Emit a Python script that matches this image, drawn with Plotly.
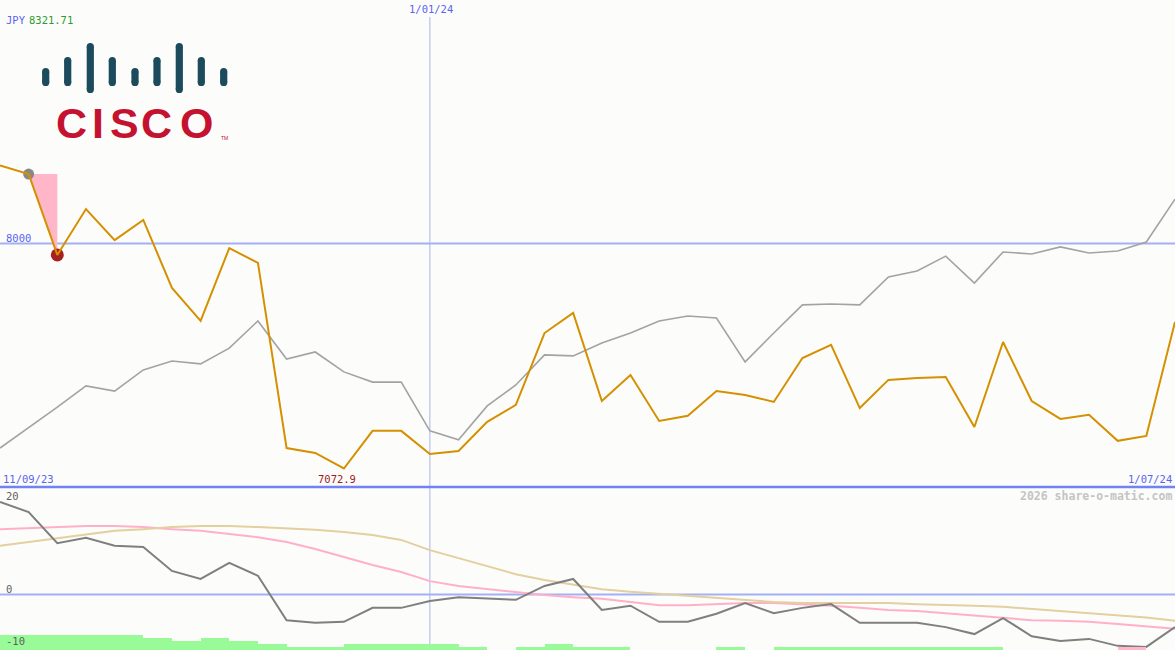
import plotly.graph_objects as go

# ---------------- data ----------------
idx = list(range(42))
date_labels = ["11/09/23", "1/01/24", "1/07/24"]
date_label_pos = [0, 15, 41]

price = [8321.71, 8286, 7953, 8142, 8014, 8097, 7817, 7681, 7981, 7920,
         7157, 7137, 7072.9, 7228, 7228, 7133, 7145, 7265, 7335, 7631,
         7714, 7351, 7458, 7269, 7290, 7392, 7376, 7347, 7528, 7582,
         7322, 7438, 7446, 7450, 7244, 7594, 7351, 7277, 7294, 7187,
         7207, 7677]

compare = [7157, 7240, 7326, 7413, 7392, 7479, 7516, 7504, 7569, 7681,
           7524, 7553, 7471, 7429, 7429, 7228, 7191, 7331, 7417, 7541,
           7537, 7590, 7631, 7681, 7701, 7693, 7512, 7631, 7747, 7751,
           7747, 7862, 7887, 7948, 7837, 7965, 7957, 7986, 7961, 7969,
           8006, 8183]

rel_perf = [17.3, 15.4, 9.6, 10.6, 9.1, 8.9, 4.4, 2.9, 5.9, 3.5,
            -4.8, -5.3, -5.1, -2.5, -2.5, -1.2, -0.5, -0.7, -1.0, 1.6,
            2.9, -2.9, -2.1, -5.1, -5.1, -3.6, -1.6, -3.5, -2.5, -1.8,
            -5.3, -5.3, -5.3, -6.1, -7.4, -4.4, -7.8, -8.7, -8.3, -9.6,
            -9.8, -6.1]

avg_fast = [12.2, 12.4, 12.6, 12.8, 12.8, 12.6, 12.2, 11.9, 11.3, 10.7,
            9.8, 8.5, 7.0, 5.5, 4.2, 2.5, 1.6, 1.0, 0.5, -0.1,
            -0.5, -0.8, -1.4, -2.0, -2.0, -1.8, -1.6, -1.6, -1.8, -2.1,
            -2.5, -2.9, -3.1, -3.5, -4.0, -4.4, -4.8, -4.9, -5.1, -5.5,
            -5.9, -6.4]

avg_slow = [9.1, 9.8, 10.6, 11.3, 11.9, 12.2, 12.6, 12.8, 12.8, 12.6,
            12.4, 12.1, 11.7, 11.1, 10.2, 8.3, 6.8, 5.3, 3.8, 2.7,
            1.8, 1.0, 0.5, 0.1, -0.3, -0.7, -1.0, -1.4, -1.6, -1.6,
            -1.6, -1.6, -1.8, -1.9, -2.1, -2.3, -2.7, -3.0, -3.4, -3.8,
            -4.3, -4.9]

# one value per interval between points (41 intervals)
volume_bars = [5, 5, 5, 5, 5, 4, 3, 4, 3, 2,
               1, 1, 2, 2, 2, 2, 1, 0, 1, 2,
               1, 1, 0, 0, 0, 1, 0, 1, 1, 1,
               1, 1, 1, 1, 1, 0, 0, 0, 0, -1,
               0]

min_label = "7072.9"
min_index = 12
header_ccy = "JPY"
header_value = "8321.71"
level_line = 8000
sub_ticks = ["20", "0", "-10"]

# ---------------- layout helpers ----------------
W, H = 1175, 650
SPLIT = 487


def px(x):
    return x / W


def py(y):
    return 1 - y / H


BG = "#fcfdfa"
BLUE_TXT = "#5a64f0"
MONO = "DejaVu Sans Mono"

fig = go.Figure()

# pink drop area
fig.add_trace(go.Scatter(
    x=[idx[1], idx[2], idx[2], idx[1]],
    y=[price[1], price[1], price[2], price[1]],
    fill="toself", fillcolor="#ffb6c8", mode="lines", line=dict(width=0),
    hoverinfo="skip", showlegend=False, xaxis="x", yaxis="y"))

# comparison line
fig.add_trace(go.Scatter(
    x=idx, y=compare, mode="lines", line=dict(color="#a3a3a3", width=1.6),
    showlegend=False, xaxis="x", yaxis="y"))

# markers
fig.add_trace(go.Scatter(
    x=[idx[1]], y=[price[1]], mode="markers",
    marker=dict(color="#888888", size=11, line=dict(width=0)),
    showlegend=False, xaxis="x", yaxis="y"))
fig.add_trace(go.Scatter(
    x=[idx[2]], y=[price[2]], mode="markers",
    marker=dict(color="#a52020", size=13, line=dict(width=0)),
    showlegend=False, xaxis="x", yaxis="y"))

# price line
fig.add_trace(go.Scatter(
    x=idx, y=price, mode="lines", line=dict(color="#d49000", width=2),
    showlegend=False, xaxis="x", yaxis="y"))

# volume-like bars in bottom panel
bar_x = [i + 0.5 for i in range(len(volume_bars))]
bar_h = [abs(v) for v in volume_bars]
bar_c = ["#98fb98" if v >= 0 else "#ffb6c8" for v in volume_bars]
fig.add_trace(go.Bar(
    x=bar_x, y=bar_h, width=1.0, marker=dict(color=bar_c, line=dict(width=0)),
    showlegend=False, xaxis="x2", yaxis="y3"))

fig.add_trace(go.Scatter(
    x=idx, y=avg_fast, mode="lines", line=dict(color="#ffb0c8", width=2),
    showlegend=False, xaxis="x2", yaxis="y2"))
fig.add_trace(go.Scatter(
    x=idx, y=avg_slow, mode="lines", line=dict(color="#e3cf9f", width=2),
    showlegend=False, xaxis="x2", yaxis="y2"))
fig.add_trace(go.Scatter(
    x=idx, y=rel_perf, mode="lines", line=dict(color="#7f7f7f", width=2),
    showlegend=False, xaxis="x2", yaxis="y2"))

main_dom = [1 - SPLIT / H, 1]
sub_dom = [0, 1 - SPLIT / H]
k = 927.1 / 225.0  # yen per pixel
y_top = level_line + 243.5 * k
y_bot = level_line - 243.5 * k
s = 5.35  # px per unit (sub panel)
sub_top = (594.5 - SPLIT) / s
sub_bot = -(H - 594.5) / s

ax_common = dict(visible=False, showgrid=False, zeroline=False, fixedrange=True)
fig.update_layout(
    width=W, height=H,
    margin=dict(l=0, r=0, t=0, b=0),
    paper_bgcolor=BG, plot_bgcolor=BG,
    showlegend=False,
    bargap=0,
    xaxis=dict(domain=[0, 1], range=[0, 41], anchor="y", **ax_common),
    yaxis=dict(domain=main_dom, range=[y_bot, y_top], anchor="x", **ax_common),
    xaxis2=dict(domain=[0, 1], range=[0, 41], anchor="y2", **ax_common),
    yaxis2=dict(domain=sub_dom, range=[sub_bot, sub_top], anchor="x2", **ax_common),
    yaxis3=dict(overlaying="y2", range=[0, (H - SPLIT) / 3.0], anchor="x2", **ax_common),
)

shapes = []
# 8000 level line
shapes.append(dict(type="line", xref="paper", yref="y", x0=0, x1=1,
                   y0=level_line, y1=level_line, layer="below",
                   line=dict(color="#a4b0f4", width=2)))
# zero line sub panel
shapes.append(dict(type="line", xref="paper", yref="y2", x0=0, x1=1,
                   y0=0, y1=0, layer="below",
                   line=dict(color="#a4b0f4", width=2)))
# panel separator
shapes.append(dict(type="line", xref="paper", yref="paper", x0=0, x1=1,
                   y0=py(SPLIT), y1=py(SPLIT), layer="above",
                   line=dict(color="#7282f0", width=2.5)))
# vertical date line
shapes.append(dict(type="line", xref="x", yref="paper",
                   x0=date_label_pos[1], x1=date_label_pos[1],
                   y0=py(17), y1=0, layer="below",
                   line=dict(color="#aab4ec", width=1)))

# Cisco logo bars
logo_x = [45.7, 67.7, 90.3, 112.3, 135, 157, 179.3, 201.3, 223.7]
logo_kind = ["s", "m", "t", "m", "s", "m", "t", "m", "s"]
extent = {"s": (68, 86), "m": (57, 86), "t": (43, 93)}
teal = "#1b4b5d"
r = 3.6
for cx, kd in zip(logo_x, logo_kind):
    t, b = extent[kd]
    shapes.append(dict(type="rect", xref="paper", yref="paper",
                       x0=px(cx - r), x1=px(cx + r), y0=py(t + r), y1=py(b - r),
                       fillcolor=teal, line=dict(width=0), layer="above"))
    shapes.append(dict(type="circle", xref="paper", yref="paper",
                       x0=px(cx - r), x1=px(cx + r), y0=py(t), y1=py(t + 2 * r),
                       fillcolor=teal, line=dict(width=0), layer="above"))
    shapes.append(dict(type="circle", xref="paper", yref="paper",
                       x0=px(cx - r), x1=px(cx + r), y0=py(b - 2 * r), y1=py(b),
                       fillcolor=teal, line=dict(width=0), layer="above"))
fig.update_layout(shapes=shapes)

ann = []


def add_text(text, x, y, color, size=10.5, xanchor="left", bold=False, family=MONO):
    ann.append(dict(text=("<b>%s</b>" % text) if bold else text,
                    x=px(x), y=py(y), xref="paper", yref="paper",
                    xanchor=xanchor, yanchor="middle", showarrow=False,
                    font=dict(family=family, size=size, color=color)))


add_text(header_ccy, 4, 20, BLUE_TXT)
add_text(header_value, 27, 20, "#2e9a2e")
add_text(date_labels[1], 431, 9, BLUE_TXT, xanchor="center")
add_text(str(level_line), 4, 238, BLUE_TXT)
add_text(date_labels[0], 1, 479, BLUE_TXT)
add_text(date_labels[2], 1174, 479, BLUE_TXT, xanchor="right")
add_text(min_label, 337, 479, "#a01c1c", xanchor="center")
add_text("2026 share-o-matic.com", 1174, 496, "#c4c4c4", size=11.5,
         xanchor="right", bold=True)
add_text(sub_ticks[0], 4, 496, "#606060")
add_text(sub_ticks[1], 4, 589, "#606060")
add_text(sub_ticks[2], 4, 641, "#606060")

# CISCO wordmark
red = "#c41230"
for ch, cx in zip("CISCO", [71.5, 98, 124, 156.5, 196]):
    ann.append(dict(text="<b>%s</b>" % ch, x=px(cx), y=py(123), xref="paper",
                    yref="paper", xanchor="center", yanchor="middle",
                    showarrow=False,
                    font=dict(family="Liberation Sans", size=43, color=red)))
add_text("TM", 224, 138, red, size=5, xanchor="center", family="Liberation Sans")

fig.update_layout(annotations=ann)

fig.write_html("out.html",
               config={"displayModeBar": False, "staticPlot": True},
               post_script="document.body.style.margin='0';"
                           "document.body.style.overflow='hidden';")
